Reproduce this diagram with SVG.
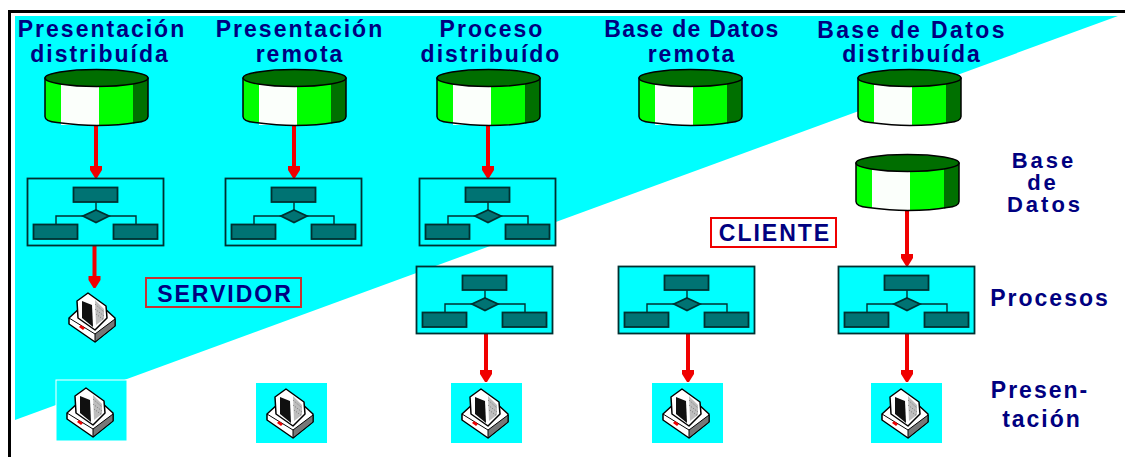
<svg xmlns="http://www.w3.org/2000/svg" width="1125" height="457" viewBox="0 0 1125 457">
<style>
text{font-family:"Liberation Sans",Arial,sans-serif;font-weight:bold;fill:#000080;font-size:23px;letter-spacing:2px;text-anchor:middle}
.ln{stroke:#000;stroke-width:1.5;fill:none}
.t{fill:#007373;stroke:#003030;stroke-width:1.8}
.w{stroke:#003030;stroke-width:1.4;fill:none}
.arrow{stroke:#f00000;stroke-width:4;fill:none;marker-end:url(#ah)}
.lab{fill:none;stroke:#c83232;stroke-width:2}
.sq{fill:#00ffff}
.side{font-size:22px;letter-spacing:3px}
</style>
<defs>
<marker id="ah" markerUnits="userSpaceOnUse" markerWidth="14" markerHeight="14" refX="8" refY="6" orient="auto"><path d="M0 0H4L12 5V7L4 12H0Z" fill="#f00000"/></marker>
<g id="cyl">
<path d="M0 8V47Q0 52 12 53Q35 56 52 56Q75 56 91 53Q103 52 103 47V8Z" fill="#00ff00"/>
<path d="M16 15H54V55.500H16Z" fill="#fbfffb"/>
<path d="M88 14L103 9V47Q103 51 88 54Z" fill="#007000"/>
<path d="M0 8V47Q0 52 12 53Q35 56 52 56Q75 56 91 53Q103 52 103 47V8" class="ln"/>
<ellipse cx="51.500" cy="8.500" rx="51.500" ry="8.500" fill="#006e00" stroke="#000" stroke-width="1.500"/>
</g>
<g id="proc">
<rect x="0.500" y="0.500" width="136" height="67" fill="#00ffff" stroke="#003030" stroke-width="1.800"/>
<path d="M69 24V32M29 46V38H56M82 38H109V46" class="w"/>
<rect x="46.500" y="9.500" width="44" height="14.500" class="t"/>
<path d="M69 32L82 38L69 44.500L56 38Z" class="t"/>
<rect x="6.500" y="46.500" width="44" height="14.500" class="t"/>
<rect x="86.500" y="46.500" width="44" height="14.500" class="t"/>
</g>
<g id="pc">
<path d="M0 26L12 15H34L46 26V34L26 50L0 32Z" fill="#fff" stroke="#000" stroke-width="1.500" stroke-linejoin="round"/>
<path d="M26 42L46 27V34L26 50Z" fill="#777" stroke="#000"/>
<path d="M0 26L26 42" stroke="#000" fill="none"/>
<path d="M8 9L19 1L37 14L38 26L26 38L9 26Z" fill="#fff" stroke="#000" stroke-width="1.500" stroke-linejoin="round"/>
<path d="M13 9L23 13L24 35L13 26Z" fill="#101010"/>
<path d="M26 8L35 17L35 27L27 33Z" fill="#bdbdbd"/>
<path d="M26 12L35 20M26 17L35 24M27 22L35 28" stroke="#777" stroke-dasharray="1 1.500" fill="none"/>
<path d="M12 33L16 36L14 38L10 35Z" fill="#f00000"/>
</g>
</defs>
<rect width="1125" height="457" fill="#fff"/>
<polygon points="15,16 1118,16 15,420" fill="#00ffff"/>
<path d="M9.500 457V11.500H1125" fill="none" stroke="#000" stroke-width="3"/>
<g id="connectors">
<path class="arrow" d="M96 125V174"/>
<path class="arrow" d="M294 125V174"/>
<path class="arrow" d="M488 125V174"/>
<path class="arrow" d="M94.500 245V284"/>
<path class="arrow" d="M486 334V378"/>
<path class="arrow" d="M688 334V378"/>
<path class="arrow" d="M907 210V262"/>
<path class="arrow" d="M907 334V378"/>
</g>
<g id="col-labels">
<text x="102" y="37">Presentación</text><text x="100" y="62">distribuída</text>
<text x="300" y="37">Presentación</text><text x="300" y="62">remota</text>
<text x="492" y="37">Proceso</text><text x="491" y="62">distribuído</text>
<text x="692" y="37" style="letter-spacing:1.300px">Base de Datos</text><text x="692" y="62">remota</text>
<text x="912" y="38" style="letter-spacing:2.400px">Base de Datos</text><text x="912" y="62">distribuída</text>
</g>
<g id="db-1"><use href="#cyl" x="45" y="69.500"/></g>
<g id="db-2"><use href="#cyl" x="243" y="69.500"/></g>
<g id="db-3"><use href="#cyl" x="437" y="69.500"/></g>
<g id="db-4"><use href="#cyl" x="639" y="69.500"/></g>
<g id="db-5"><use href="#cyl" x="858" y="69.500"/></g>
<g id="db-6"><use href="#cyl" x="856" y="154.500"/></g>
<g id="proc-1"><use href="#proc" x="27" y="178"/></g>
<g id="proc-2"><use href="#proc" x="225" y="178"/></g>
<g id="proc-3"><use href="#proc" x="419" y="178"/></g>
<g id="proc-4"><use href="#proc" x="416" y="266"/></g>
<g id="proc-5"><use href="#proc" x="618" y="266"/></g>
<g id="proc-6"><use href="#proc" x="838" y="266"/></g>
<g id="pc-0"><use href="#pc" x="69" y="292"/></g>
<g id="pc-1"><rect class="sq" x="56" y="380" width="71" height="61" stroke="#fff"/><use href="#pc" x="67" y="387"/></g>
<g id="pc-2"><rect class="sq" x="256" y="383" width="71" height="60"/><use href="#pc" x="267" y="388"/></g>
<g id="pc-3"><rect class="sq" x="451" y="383" width="71" height="60"/><use href="#pc" x="462" y="388"/></g>
<g id="pc-4"><rect class="sq" x="652" y="383" width="71" height="60"/><use href="#pc" x="663" y="388"/></g>
<g id="pc-5"><rect class="sq" x="871" y="383" width="71" height="60"/><use href="#pc" x="882" y="388"/></g>
<g id="servidor"><rect class="lab" x="146" y="278" width="155" height="29"/><text x="225" y="302">SERVIDOR</text></g>
<g id="cliente"><rect class="lab" x="711" y="218" width="125" height="29" style="stroke:#f00000"/><text x="775" y="241">CLIENTE</text></g>
<g id="side-labels">
<text class="side" x="1044" y="168">Base</text><text class="side" x="1043" y="190">de</text><text class="side" x="1045" y="212">Datos</text>
<text x="1050" y="306">Procesos</text>
<text x="1040" y="398">Presen-</text><text x="1042" y="427">tación</text>
</g>
</svg>
